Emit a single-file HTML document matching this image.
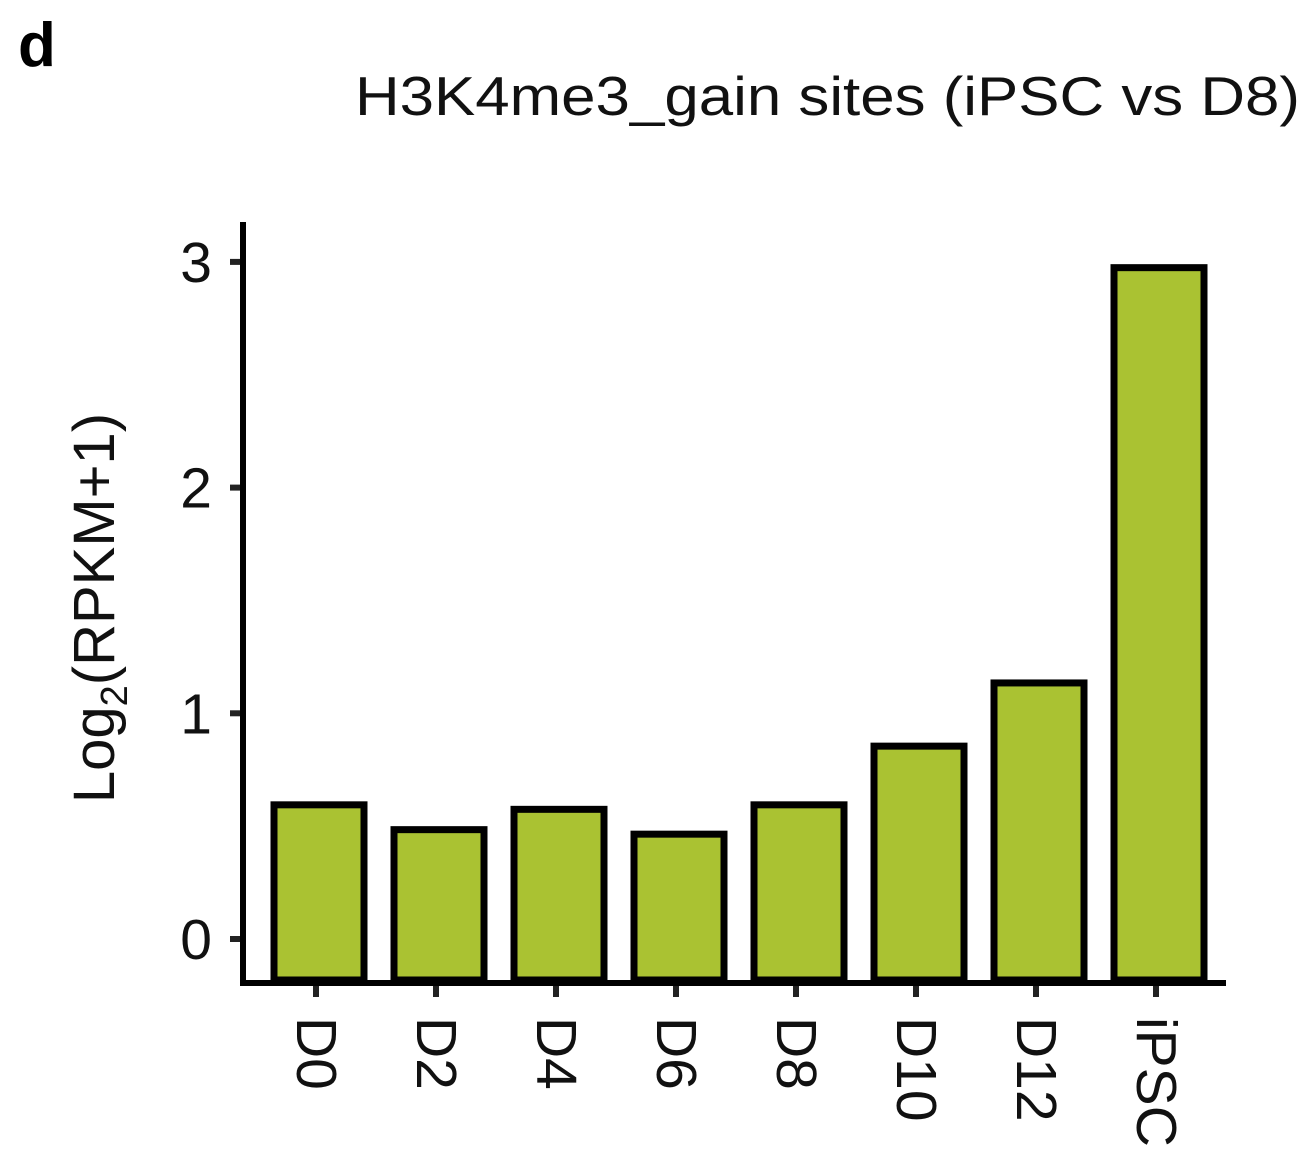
<!DOCTYPE html>
<html><head><meta charset="utf-8"><style>
html,body{margin:0;padding:0;background:#fff;}
svg{display:block;font-family:"Liberation Sans",Arial,sans-serif;}
</style></head><body>
<svg id="chart" width="1308" height="1166" viewBox="0 0 1308 1166">
<text x="18" y="66" font-size="62" font-weight="bold">d</text>
<text x="355" y="115" font-size="55" textLength="945" lengthAdjust="spacingAndGlyphs" fill="#111">H3K4me3_gain sites (iPSC vs D8)</text>
<text transform="translate(114,608) rotate(-90)" text-anchor="middle" font-size="58" fill="#111">Log<tspan font-size="38" dy="13">2</tspan><tspan dy="-13">(RPKM+1)</tspan></text>
<g id="bars"></g>
<g id="yticks"></g>
<g id="xticks"></g>
<line x1="243" y1="222" x2="243" y2="986" stroke="#000" stroke-width="6"/>
<line x1="240" y1="983" x2="1226" y2="983" stroke="#000" stroke-width="6"/>
</svg>
<script>
const categories = ["D0","D2","D4","D6","D8","D10","D12","iPSC"];
const values = [0.61, 0.50, 0.59, 0.48, 0.61, 0.87, 1.15, 2.99];
const yTicks = [0, 1, 2, 3];
const NS = "http://www.w3.org/2000/svg";
function y(v){ return 939 - v * 225.7; }
function xc(i){ return 319 + i * 120; }
const bw = 90, base = 980;
const gb = document.getElementById('bars');
categories.forEach((c, i) => {
  const r = document.createElementNS(NS, 'rect');
  const top = y(values[i]);
  r.setAttribute('x', xc(i) - bw/2);
  r.setAttribute('y', top + 3.5);
  r.setAttribute('width', bw);
  r.setAttribute('height', base - top - 3.5);
  r.setAttribute('fill', '#aac232');
  r.setAttribute('stroke', '#000');
  r.setAttribute('stroke-width', '7');
  
  
  gb.appendChild(r);
});
const gy = document.getElementById('yticks');
yTicks.forEach(t => {
  const l = document.createElementNS(NS, 'line');
  l.setAttribute('x1', 230); l.setAttribute('x2', 243);
  l.setAttribute('y1', y(t)); l.setAttribute('y2', y(t));
  l.setAttribute('stroke', '#222'); l.setAttribute('stroke-width', '6');
  
  
  gy.appendChild(l);
  const tx = document.createElementNS(NS, 'text');
  tx.setAttribute('x', 212); tx.setAttribute('y', y(t) + 20);
  tx.setAttribute('text-anchor', 'end'); tx.setAttribute('font-size', '57'); tx.setAttribute('fill', '#111');
  tx.textContent = t;
  
  
  gy.appendChild(tx);
});
const gx = document.getElementById('xticks');
categories.forEach((c, i) => {
  const l = document.createElementNS(NS, 'line');
  l.setAttribute('x1', xc(i) - 3); l.setAttribute('x2', xc(i) - 3);
  l.setAttribute('y1', 986); l.setAttribute('y2', 997);
  l.setAttribute('stroke', '#222'); l.setAttribute('stroke-width', '6');
  
  
  gx.appendChild(l);
  const tx = document.createElementNS(NS, 'text');
  tx.setAttribute('transform', 'translate(' + (xc(i) - 22) + ',1017) rotate(90)');
  tx.setAttribute('font-size', '57'); tx.setAttribute('fill', '#111');
  tx.textContent = c;
  
  
  gx.appendChild(tx);
});
</script>
</body></html>
